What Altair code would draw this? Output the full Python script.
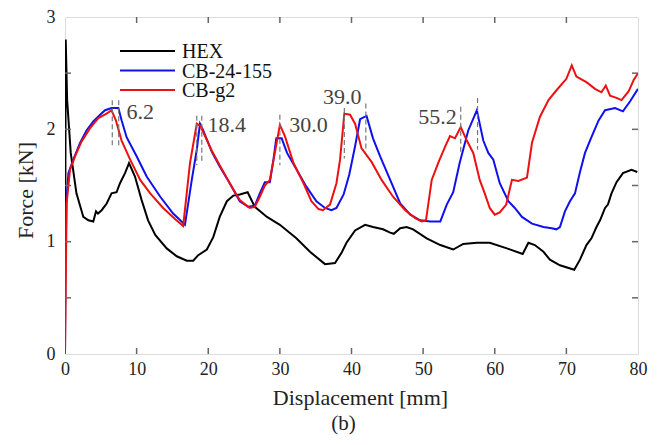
import altair as alt
import pandas as pd

# ---- data ----
hex_x = [0, 0.1, 0.3, 0.8, 1.6, 2.56, 3.26, 3.95, 4.33, 4.6, 5.12, 5.82, 6.5, 7.2, 7.68, 8.38, 8.94, 9.77, 10.7, 11.6,
         12.6, 14.2, 15.6, 17.0, 17.9, 18.6, 19.8, 20.7, 21.6, 22.6, 23.5, 24.4, 25.5, 26.5, 28.2, 30.0, 32.3, 34.2, 36.3, 37.7,
         38.6, 39.3, 40.5, 41.9, 43.0, 44.4, 45.4, 45.9, 46.8, 47.7, 48.6, 50.5, 52.4, 54.2, 55.6, 57.5, 59.3, 61.7, 63.9, 64.7,
         65.6, 66.8, 67.7, 69.1, 71.1, 71.9, 72.8, 73.5, 74.2, 74.7, 75.4, 75.8, 76.3, 77.0, 77.9, 79.1, 79.9]
hex_y = [0, 2.80, 2.26, 1.79, 1.43, 1.22, 1.19, 1.18, 1.27, 1.25, 1.28, 1.34, 1.43, 1.44, 1.52, 1.61, 1.70, 1.58, 1.37, 1.19,
         1.06, 0.94, 0.87, 0.83, 0.83, 0.88, 0.93, 1.04, 1.22, 1.36, 1.41, 1.42, 1.44, 1.31, 1.22, 1.15, 1.03, 0.91, 0.80, 0.81,
         0.90, 0.99, 1.10, 1.15, 1.13, 1.11, 1.08, 1.07, 1.12, 1.13, 1.11, 1.03, 0.97, 0.93, 0.98, 0.99, 0.99, 0.94, 0.89, 0.99,
         0.97, 0.91, 0.84, 0.79, 0.75, 0.84, 0.97, 1.03, 1.13, 1.19, 1.30, 1.33, 1.43, 1.53, 1.61, 1.64, 1.62]

cb_x = [0, 0.05, 0.2, 0.47, 1.16, 2.1, 3.0, 3.95, 4.9, 5.6, 6.5, 7.45, 7.9, 8.6, 10.0, 11.4, 13.3, 15.1, 16.75, 17.7,
        18.4, 18.85, 19.3, 20.5, 21.6, 23.0, 24.4, 25.6, 26.5, 27.2, 27.9, 28.6, 29.1, 29.5, 30.25, 31.0, 32.35, 33.7, 35.1, 36.3,
        37.2, 37.9, 38.9, 39.7, 40.5, 41.2, 42.1, 43.0, 44.0, 45.4, 46.8, 48.2, 49.6, 51.0, 52.4, 53.3, 54.2, 55.1, 56.3, 57.5,
        58.4, 59.1, 59.8, 60.7, 61.9, 62.8, 63.8, 65.2, 66.8, 67.95, 68.6, 69.1, 69.8, 70.5, 71.2, 71.9, 72.6, 73.5, 74.5, 75.4,
        76.8, 77.9, 78.9, 80.0]
cb_y = [0, 0.78, 1.35, 1.61, 1.73, 1.88, 1.99, 2.07, 2.13, 2.17, 2.19, 2.19, 2.08, 1.93, 1.76, 1.58, 1.40, 1.25, 1.15, 1.55,
        1.82, 2.05, 1.99, 1.80, 1.67, 1.52, 1.36, 1.31, 1.32, 1.43, 1.53, 1.53, 1.73, 1.92, 1.92, 1.79, 1.64, 1.49, 1.36, 1.30,
        1.28, 1.30, 1.42, 1.60, 1.85, 2.09, 2.12, 1.92, 1.76, 1.55, 1.34, 1.24, 1.19, 1.18, 1.18, 1.33, 1.44, 1.70, 1.99, 2.17,
        1.90, 1.79, 1.73, 1.52, 1.36, 1.30, 1.22, 1.16, 1.13, 1.12, 1.11, 1.13, 1.27, 1.36, 1.43, 1.62, 1.79, 1.93, 2.08, 2.17,
        2.19, 2.16, 2.25, 2.36]

g2_x = [0, 0.1, 0.23, 0.7, 1.4, 2.3, 3.5, 4.65, 5.8, 6.5, 7.1, 7.9, 9.1, 10.5, 11.9, 13.7, 15.4, 16.5, 17.45, 18.4,
        18.9, 20.5, 21.6, 23.0, 24.4, 25.8, 26.5, 27.2, 27.9, 28.6, 29.3, 30.0, 30.7, 31.9, 33.3, 34.4, 35.4, 36.0, 37.0, 37.9,
        38.4, 39.0, 39.8, 40.5, 41.4, 42.8, 44.2, 45.8, 47.5, 48.9, 49.8, 50.4, 51.2, 52.1, 53.1, 53.75, 54.45, 55.25, 56.1, 57.0,
        57.9, 58.6, 59.3, 60.0, 60.7, 61.6, 62.4, 63.3, 64.5, 65.2, 66.3, 67.5, 68.65, 70.0, 70.75, 71.4, 72.8, 74.0, 74.9, 75.5,
        76.1, 77.0, 77.7, 78.7, 79.4, 80.0]
g2_y = [0, 0.6, 1.34, 1.64, 1.76, 1.89, 2.01, 2.10, 2.14, 2.17, 2.08, 1.90, 1.73, 1.55, 1.43, 1.30, 1.20, 1.14, 1.70, 2.05,
        2.03, 1.81, 1.68, 1.52, 1.37, 1.30, 1.31, 1.40, 1.50, 1.55, 1.79, 2.04, 1.94, 1.70, 1.52, 1.36, 1.29, 1.28, 1.33, 1.52,
        1.73, 2.14, 2.13, 2.05, 1.83, 1.71, 1.55, 1.40, 1.28, 1.21, 1.18, 1.19, 1.55, 1.70, 1.85, 1.94, 1.92, 2.02, 1.90, 1.79,
        1.55, 1.43, 1.30, 1.24, 1.26, 1.33, 1.55, 1.54, 1.57, 1.88, 2.11, 2.26, 2.35, 2.45, 2.57, 2.47, 2.42, 2.36, 2.33, 2.39,
        2.30, 2.28, 2.26, 2.34, 2.44, 2.50]

series_names = ["HEX", "CB-24-155", "CB-g2"]
series_colors = ["#000000", "#1010ee", "#ee1010"]

# peak markers (dashed) and their labels
dash_x = [6.6, 7.5, 18.4, 19.1, 30.0, 39.0, 42.0, 55.25, 57.6]
dash_top = [2.26, 2.26, 2.12, 2.12, 2.13, 2.19, 2.23, 2.20, 2.28]
dash_bot = [1.85, 1.85, 1.68, 1.70, 1.68, 1.74, 1.80, 1.79, 1.82]

ann_left_text = ["6.2", "18.4", "30.0"]
ann_left_x = [8.6, 19.9, 31.3]
ann_left_y = [2.15, 2.04, 2.04]
ann_right_text = ["39.0", "55.2"]
ann_right_x = [41.4, 54.7]
ann_right_y = [2.29, 2.11]

x_ticks = [10, 20, 30, 40, 50, 60, 70]
y_ticks = [0.5, 1.0, 1.5, 2.0, 2.5]

# ---- layout ----
W, H = 573, 337
FONT = "Liberation Serif"
FRAME = "#666666"

xs = alt.Scale(domain=[0, 80], nice=False, zero=False)
ys = alt.Scale(domain=[0, 3], nice=False, zero=False)

x_axis = alt.Axis(values=[0, 10, 20, 30, 40, 50, 60, 70, 80], format="d", grid=False, domain=False,
                  ticks=False, tickSize=0, labelPadding=6, labelFont=FONT, labelFontSize=18, labelFlush=False,
                  labelColor="#222", title="Displacement [mm]", titleFont=FONT, titleFontSize=22,
                  titleFontWeight="normal", titleColor="#222", titlePadding=9, titleX=295)
y_axis = alt.Axis(values=[0, 1, 2, 3], format="d", grid=False, domain=False,
                  ticks=False, tickSize=0, labelPadding=10, labelFont=FONT, labelFontSize=18, labelFlush=False,
                  labelColor="#222", title="Force [kN]", titleFont=FONT, titleFontSize=22,
                  titleFontWeight="normal", titleColor="#222", titlePadding=9, titleY=173)


def X(field):
    return alt.X(field, scale=xs, axis=x_axis)


def Y(field):
    return alt.Y(field, scale=ys, axis=y_axis)


def series_df(xv, yv, name):
    assert len(xv) == len(yv), name
    return pd.DataFrame({"x": xv, "y": yv, "s": name, "i": range(len(xv))})


raw = [(hex_x, hex_y), (cb_x, cb_y), (g2_x, g2_y)]
layers = []
for k, (xv, yv) in enumerate(raw):
    df = series_df(xv, yv, series_names[k])
    layers.append(alt.Chart(df).mark_line(color=series_colors[k], strokeWidth=2, clip=True).encode(
        x=X("x:Q"), y=Y("y:Q"), order="i:Q"))

dash_df = pd.DataFrame({"x": dash_x, "y1": dash_top, "y2": dash_bot})
dashes = alt.Chart(dash_df).mark_rule(color="#777777", strokeWidth=1.2, strokeDash=[5, 3]).encode(
    x=X("x:Q"), y=Y("y1:Q"), y2="y2:Q")

annL = alt.Chart(pd.DataFrame({"t": ann_left_text, "x": ann_left_x, "y": ann_left_y})).mark_text(
    align="left", baseline="middle", font=FONT, fontSize=22, color="#444444").encode(
    x=X("x:Q"), y=Y("y:Q"), text="t:N")
annR = alt.Chart(pd.DataFrame({"t": ann_right_text, "x": ann_right_x, "y": ann_right_y})).mark_text(
    align="right", baseline="middle", font=FONT, fontSize=22, color="#444444").encode(
    x=X("x:Q"), y=Y("y:Q"), text="t:N")

xt = pd.DataFrame({"x": x_ticks})
yt = pd.DataFrame({"y": y_ticks})
tick_style = dict(color=FRAME, strokeWidth=1.5)
tb = alt.Chart(xt).mark_rule(**tick_style).encode(x=X("x:Q"), y=alt.value(H), y2=alt.value(H - 6))
tt = alt.Chart(xt).mark_rule(**tick_style).encode(x=X("x:Q"), y=alt.value(0), y2=alt.value(6))
tl = alt.Chart(yt).mark_rule(**tick_style).encode(y=Y("y:Q"), x=alt.value(0), x2=alt.value(6))
tr = alt.Chart(yt).mark_rule(**tick_style).encode(y=Y("y:Q"), x=alt.value(W), x2=alt.value(W - 6))

legend_df = pd.DataFrame({"s": series_names, "c": series_colors, "k": range(3)})
legend_layers = []
for k in range(3):
    row = legend_df.iloc[[k]]
    yy = 34 + 19.5 * k
    legend_layers.append(alt.Chart(row).mark_rule(color=series_colors[k], strokeWidth=2.2).encode(
        x=alt.value(55), x2=alt.value(110), y=alt.value(yy)))
    legend_layers.append(alt.Chart(row).mark_text(align="left", baseline="middle", font=FONT, fontSize=20,
                                                  color="#111").encode(
        x=alt.value(117), y=alt.value(yy + 1), text="s:N"))

caption = alt.Chart(pd.DataFrame({"t": ["(b)"]})).mark_text(
    align="center", baseline="middle", font=FONT, fontSize=21, color="#222").encode(
    x=alt.value(W / 2 - 8), y=alt.value(407), text="t:N")

chart = alt.layer(*layers, dashes, annL, annR, tb, tt, tl, tr, *legend_layers, caption).properties(
    width=W, height=H, autosize=alt.AutoSizeParams(type="none"),
    padding={"left": 57, "top": 9, "right": 14, "bottom": 82}
).configure_view(stroke=FRAME, strokeWidth=2).configure(background="white")

chart.save("out.html", embed_options={"renderer": "svg", "actions": False})
